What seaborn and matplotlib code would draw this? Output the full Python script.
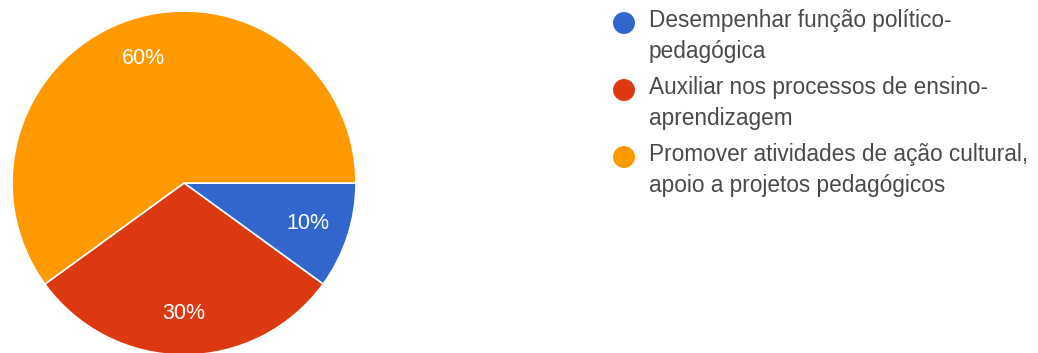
import matplotlib
matplotlib.use("Agg")
import matplotlib.pyplot as plt
import seaborn as sns

# Survey answers and their shares (percent)
categories = [
    "Desempenhar função político-\npedagógica",
    "Auxiliar nos processos de ensino-\naprendizagem",
    "Promover atividades de ação cultural,\napoio a projetos pedagógicos",
]
shares = [10, 30, 60]
colors = ["#3366CC", "#DC3912", "#FF9900"]

sns.set_theme(style="white")
plt.rcParams["font.family"] = ["Liberation Sans", "DejaVu Sans"]

W, H = 1038, 353
fig = plt.figure(figsize=(W / 100, H / 100), dpi=100)
fig.patch.set_facecolor("white")

# Pie axes: square, centred at (184, 183) px from top-left, radius 172 px
cx, cy, r = 184, 183, 172
ax = fig.add_axes([(cx - r) / W, (H - cy - r) / H, 2 * r / W, 2 * r / H])
wedges, _, autotexts = ax.pie(
    shares,
    colors=colors,
    startangle=0,
    counterclock=False,
    autopct=lambda p: f"{p:.0f}%",
    pctdistance=0.76,
    radius=1.0,
    wedgeprops=dict(edgecolor="white", linewidth=1.2),
    textprops=dict(color="white", fontsize=15.5),
)
ax.set_xlim(-1, 1)
ax.set_ylim(-1, 1)
ax.set_aspect("equal")
ax.axis("off")

# Legend drawn as marker + wrapped label for each category
leg = fig.add_axes([0, 0, 1, 1], facecolor="none")
leg.set_xlim(0, W)
leg.set_ylim(H, 0)
leg.axis("off")
marker_x, text_x = 624, 649
first_y, step = 23, 67
for i, (label, col) in enumerate(zip(categories, colors)):
    y = first_y + i * step
    leg.scatter([marker_x], [y], s=250, color=col, edgecolors="none")
    # baseline of the last (second) line of the label
    leg.text(text_x, y + 35, label, ha="left", va="baseline",
             fontsize=16.3, color="#4a4a4a", linespacing=1.44)

fig.savefig("out.png", dpi=100, facecolor="white")
